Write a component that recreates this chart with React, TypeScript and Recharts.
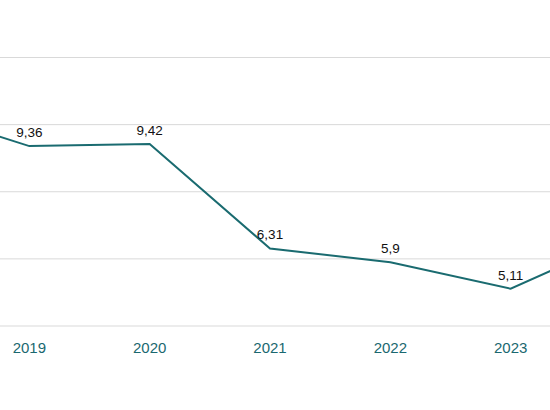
import React from 'react';
import { LineChart, Line, XAxis, YAxis, CartesianGrid, LabelList } from 'recharts';

const years = ['2018', '2019', '2020', '2021', '2022', '2023', '2024'];
const rates = [10.5, 9.36, 9.42, 6.31, 5.9, 5.11, 6.72];
// only these years fall inside the visible window
const shownYears = ['2019', '2020', '2021', '2022', '2023'];
const yTicks = [4, 6, 8, 10, 12];

const data = years.map((year, i) => ({ year, value: rates[i] }));

const labelValue = (entry: any) => (shownYears.includes(entry.year) ? entry.value : null);
const formatComma = (v: any) => (v == null ? '' : String(v).replace('.', ','));
const formatYear = (y: any) => (shownYears.includes(String(y)) ? String(y) : '');

const App: React.FC = () => {
  return (
    <div
      style={{
        position: 'fixed',
        left: 0,
        top: 0,
        width: 550,
        height: 410,
        overflow: 'hidden',
        background: '#ffffff',
        fontFamily: '"Liberation Sans", Arial, sans-serif',
      }}
    >
      <div style={{ position: 'absolute', left: -91, top: 0 }}>
        <LineChart width={722} height={410} data={data} margin={{ top: 57.5, right: 0, left: 0, bottom: 54 }}>
          <CartesianGrid horizontal vertical={false} stroke="#d9d9d9" strokeWidth={1} />
          <XAxis
            dataKey="year"
            axisLine={false}
            tickLine={false}
            tickMargin={10}
            height={30}
            interval={0}
            tickFormatter={formatYear}
            tick={{ fill: '#1a6870', fontSize: 15 }}
          />
          <YAxis hide domain={[4, 12]} ticks={yTicks} />
          <Line
            type="linear"
            dataKey="value"
            stroke="#1a6b70"
            strokeWidth={2}
            dot={false}
            isAnimationActive={false}
          >
            <LabelList dataKey={labelValue} position="top" offset={9} fill="#111" fontSize={13.5} formatter={formatComma} />
          </Line>
        </LineChart>
      </div>
    </div>
  );
};

export default App;
